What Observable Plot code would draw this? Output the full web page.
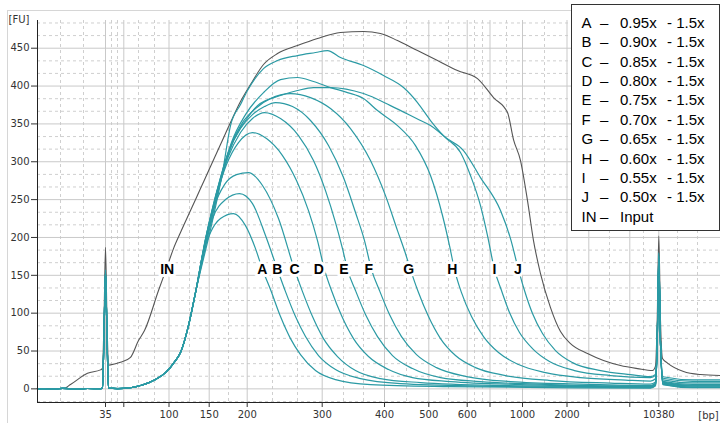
<!DOCTYPE html>
<html><head><meta charset="utf-8">
<script src="https://cdn.jsdelivr.net/npm/d3@7"></script>
<script src="https://cdn.jsdelivr.net/npm/@observablehq/plot@0.6"></script>
<style>
body{margin:0;background:#fff}
#wrap{position:relative;width:720px;height:423px;overflow:hidden;background:#fff}
#legend{position:absolute;left:571px;top:4px;width:147px;height:225px;border:1px solid #333;background:#fff}
.lg{position:absolute;font:15px "Liberation Sans",Arial,sans-serif;color:#000;line-height:18px;white-space:pre}
</style></head><body><div id="wrap"></div>
<script>
// ladder (bp) and their migration times (s)
const ladderBp = [35,50,100,150,200,300,400,500,600,700,1000,2000,3000,7000,10380];
const ladderTime = [41.80,43.63,48.15,52.17,55.97,63.47,69.70,74.13,77.97,80.25,83.50,87.95,90.13,94.23,97.13];
const ladderShown = [true,false,true,true,true,true,true,true,true,false,true,true,false,false,true];
const minorTime = [37.3,39.6,42.4,43.0,45.1,46.7,50.2,54.1,58.5,61.0,65.6,67.6,71.9,76.1,78.7,79.5,81.9,85.7,92.2,95.6,99.0,101.0];
const yTicks = [0,50,100,150,200,250,300,350,400,450];
const yMinor = [-16.7,16.7,33.3,66.7,83.3,116.7,133.3,166.7,183.3,216.7,233.3,266.7,283.3,316.7,333.3,366.7,383.3,416.7,433.3,466.7,483.3];

// Input (gray) trace [time s, FU]
const inputTrace = [[35.0,0.3],[37.6,0.5],[38.3,5.7],[40.0,20.6],[41.3,25.1],[41.5,27],[41.65,90],[41.8,187],[41.95,90],[42.1,31.4],[42.3,31.7],[43.3,35.1],[44.3,41.7],[45.1,63.8],[45.7,77.0],[47.1,129.9],[47.9,159.0],[48.6,185.3],[49.3,206.5],[50.3,235.5],[51.3,264.6],[52.3,293.7],[53.3,322.7],[54.3,351.8],[55.3,379.5],[56.3,402.0],[57.6,428.5],[59.0,442.9],[61.0,453.5],[63.0,462.8],[65.3,470.7],[67.6,472.0],[69.3,469.4],[71.0,460.1],[73.0,446.9],[75.0,433.7],[77.0,420.5],[79.0,409.9],[80.6,384.8],[82.0,365.0],[82.6,329.3],[83.3,301.6],[84.0,248.7],[84.6,195.9],[85.3,152.3],[86.3,107.4],[87.3,75.7],[88.3,59.8],[90.0,46.6],[91.6,37.4],[93.3,30.8],[95.0,26.8],[96.5,24.2],[96.8,30],[96.97,90],[97.13,202],[97.3,90],[97.5,40],[98.0,34.1],[99.6,22.9],[101.3,18.9],[103.3,17.6]];

// shared parts of the size-selected traces
const baseLeft = [[35.0,0.3],[36.2,-0.6],[37.5,0.7],[38.8,-0.3],[40.0,0.5],[41.2,0.2]];
const riseShared = [[43.0,0.4],[44.3,1.5],[45.3,4.4],[46.8,12.3],[47.8,21.5],[48.8,37.4],[49.3,48.0],[50.1,83.6],[50.8,127.2]];

const sampleIds = ["A","B","C","D","E","F","G","H","I","J"];
const peak35 = [150,152,157,155,153,156,154,151,155,157];
const peakUpper = [165,170,175,178,172,168,176,162,170,180];
const tailAfter = [1.5,2,2.5,3.5,4,5,6,8,10,12];

const bodyA = [[51.5,176.1],[52.3,206.5],[53.3,225.0],[54.6,231.6],[55.8,215.7],[56.8,185.3],[57.5,157.6],[58.3,131.2],[59.3,95.5],[60.3,66.4],[61.3,45.3],[62.8,24.2],[64.8,12.3],[68.3,5.7],[76.3,3.0],[86.3,1.7],[96.3,1.0]];
const bodyB = [[51.6,182.7],[52.5,225.0],[53.8,250.1],[55.2,258.0],[56.5,244.8],[57.8,202.5],[59.0,157.6],[59.8,128.5],[60.8,95.5],[61.8,69.1],[63.1,44.0],[64.8,25.5],[67.3,13.6],[71.3,7.0],[79.3,3.7],[89.3,2.4],[96.3,1.7]];
const bodyC = [[51.7,190.6],[52.6,238.2],[53.7,269.9],[54.9,283.1],[56.1,285.7],[57.5,268.6],[59.1,225.0],[60.7,157.6],[61.5,128.5],[62.5,95.5],[63.6,66.4],[65.0,42.7],[66.8,24.2],[69.3,13.6],[73.3,8.3],[81.3,4.4],[91.3,3.0],[96.3,2.4]];
const bodyD = [[51.8,198.5],[52.8,251.4],[53.9,296.3],[55.1,325.4],[56.5,338.6],[57.9,330.6],[59.5,308.2],[60.9,275.2],[62.1,235.5],[63.0,195.9],[63.7,157.6],[64.4,129.9],[65.4,96.8],[66.6,66.4],[68.1,42.7],[70.1,25.5],[72.5,14.9],[76.3,9.6],[83.3,5.7],[91.3,3.7],[96.3,3.0]];
const bodyE = [[51.9,203.8],[52.9,259.3],[54.0,304.2],[55.3,338.6],[56.5,357.1],[57.7,365.0],[59.3,357.1],[61.1,334.6],[62.6,301.6],[63.8,261.9],[64.8,219.7],[65.5,185.3],[66.0,157.6],[66.8,129.9],[67.8,98.2],[69.0,69.1],[70.5,44.0],[72.5,26.8],[75.3,14.9],[79.3,9.6],[86.3,5.7],[96.3,3.7]];
const bodyF = [[52.0,209.1],[53.0,264.6],[54.1,312.2],[55.3,343.9],[56.5,362.3],[57.7,372.9],[58.8,378.2],[60.5,372.9],[62.3,354.5],[64.1,321.4],[65.6,279.1],[66.8,232.9],[67.7,195.9],[68.4,157.6],[69.2,129.9],[70.2,98.2],[71.4,69.1],[72.9,45.3],[74.9,28.1],[77.9,16.2],[82.3,9.6],[89.3,6.3],[96.3,4.4]];
const bodyG = [[52.1,211.8],[53.1,268.6],[54.2,317.5],[55.5,351.8],[56.8,370.3],[58.3,383.5],[60.3,390.1],[62.3,384.8],[64.3,370.3],[66.3,343.9],[68.3,301.6],[69.8,255.3],[71.0,209.1],[71.7,182.7],[72.3,157.6],[73.1,127.2],[74.1,95.5],[75.3,66.4],[76.8,44.0],[78.8,28.1],[81.8,17.6],[86.3,11.0],[92.3,7.7],[96.3,6.3]];
const bodyH = [[52.2,214.4],[53.3,275.2],[54.4,325.4],[55.8,362.3],[57.6,391.4],[59.3,408.6],[61.0,411.3],[62.6,406.0],[64.3,398.0],[66.0,391.4],[67.6,383.5],[69.0,367.6],[71.0,347.8],[72.8,321.4],[74.3,281.8],[75.5,229.0],[76.2,189.3],[76.7,157.6],[77.4,127.2],[78.4,95.5],[79.6,69.1],[81.1,48.0],[83.1,32.1],[85.8,21.5],[89.3,14.9],[93.8,11.6],[96.3,10.3]];
const bodyI = [[52.3,217.0],[53.4,277.8],[54.6,328.0],[55.8,354.5],[57.0,374.2],[59.3,387.5],[61.0,394.1],[62.6,398.0],[64.3,398.0],[67.6,390.1],[70.3,374.2],[72.9,357.1],[74.3,347.8],[75.9,330.6],[77.3,312.2],[78.3,281.8],[79.3,242.1],[80.0,202.5],[80.7,157.6],[81.4,129.9],[82.2,100.8],[83.2,74.4],[84.5,53.2],[86.2,36.1],[88.7,24.2],[92.3,17.6],[96.3,14.9]];
const bodyJ = [[52.5,222.3],[53.5,285.7],[54.3,347.8],[55.3,375.6],[56.0,394.1],[57.6,423.1],[59.0,433.7],[61.0,440.3],[62.8,444.3],[64.0,446.9],[65.3,437.7],[67.6,427.1],[69.6,413.9],[71.6,398.0],[73.0,378.2],[74.3,354.5],[75.6,334.6],[77.6,314.8],[79.3,279.1],[81.3,235.5],[82.3,198.5],[83.1,157.6],[83.7,129.9],[84.5,99.5],[85.5,73.1],[86.8,50.6],[88.5,34.7],[91.3,24.2],[94.3,18.9],[96.3,16.2]];
const bodies = [bodyA,bodyB,bodyC,bodyD,bodyE,bodyF,bodyG,bodyH,bodyI,bodyJ];

// curve labels
const labelText = ["IN","A","B","C","D","E","F","G","H","I","J"];
const labelTime = [47.97,57.47,58.97,60.70,63.13,65.63,68.13,72.13,76.47,80.70,83.03];
const labelFU = 157.6;

// legend
const legendKey = ["A","B","C","D","E","F","G","H","I","J","IN"];
const legendFirst = ["0.95x","0.90x","0.85x","0.80x","0.75x","0.70x","0.65x","0.60x","0.55x","0.50x","Input"];
const legendSecond = ["- 1.5x","- 1.5x","- 1.5x","- 1.5x","- 1.5x","- 1.5x","- 1.5x","- 1.5x","- 1.5x","- 1.5x",""];

const teal = "#2b9aa4";
const rows = [];
sampleIds.forEach((id, i) => {
  const body = bodies[i];
  const last = body[body.length - 1][1];
  const pts = [...baseLeft, [41.5,1], [41.65,70], [41.8,peak35[i]], [41.95,70], [42.1,1], ...riseShared, ...body,
    [96.8,last + 3], [96.97,60], [97.13,peakUpper[i]], [97.3,60], [97.55,tailAfter[i] + 4], [100.5,tailAfter[i]], [103.3,tailAfter[i]]];
  pts.forEach(p => rows.push({id, t: p[0], fu: p[1]}));
});
const inputRows = inputTrace.map(p => ({t: p[0], fu: p[1]}));
const labelRows = labelText.map((s, i) => ({s, t: labelTime[i], fu: labelFU}));
const tickLabel = new Map(ladderTime.map((t, i) => [t, ladderShown[i] ? String(ladderBp[i]) : ""]));

const chart = Plot.plot({
  width: 720, height: 423,
  marginLeft: 37, marginRight: 0, marginTop: 20, marginBottom: 21,
  x: {domain: [35, 103.3]},
  y: {domain: [-18, 486.6]},
  style: {fontFamily: "'DejaVu Sans', Verdana, sans-serif", fontSize: "10px", color: "#333", background: "transparent", overflow: "visible"},
  marks: [
    Plot.ruleY(yMinor, {stroke: "#cfcfcf", strokeDasharray: "3,3"}),
    Plot.ruleX(minorTime, {stroke: "#cfcfcf", strokeDasharray: "3,3"}),
    Plot.ruleY(yTicks, {stroke: "#c9c9c9"}),
    Plot.ruleX(ladderTime, {stroke: "#c9c9c9"}),
    Plot.line(inputRows, {x: "t", y: "fu", stroke: "#555", strokeWidth: 1.1, curve: "monotone-x"}),
    Plot.line(rows, {x: "t", y: "fu", z: "id", stroke: teal, strokeWidth: 1.2, curve: "monotone-x"}),
    Plot.text(labelRows, {x: "t", y: "fu", text: "s", fontFamily: "'Liberation Sans', Arial, sans-serif", fontSize: 14, fontWeight: "bold", fill: "#000", stroke: "#fff", strokeWidth: 6}),
    Plot.ruleX([35], {stroke: "#222"}),
    Plot.ruleY([-18], {stroke: "#222"}),
    Plot.axisY({ticks: yTicks, tickSize: 6, tickPadding: 2, label: null}),
    Plot.axisX({ticks: ladderTime, tickSize: 5, tickPadding: 3, label: null, tickFormat: d => tickLabel.get(d)}),
    Plot.text(["[FU]"], {frameAnchor: "top-left", dx: -29, dy: -1, textAnchor: "start", lineAnchor: "middle"}),
    Plot.text(["[bp]"], {frameAnchor: "bottom-right", dx: -12, dy: 13, textAnchor: "middle", lineAnchor: "middle"})
  ]
});

d3.select(chart).insert("rect", ":first-child")
  .attr("x", 7.5).attr("y", 10.5).attr("width", 730).attr("height", 430)
  .attr("fill", "none").attr("stroke", "#d6d6d6");

const wrap = document.getElementById("wrap");
wrap.appendChild(chart);
const leg = document.createElement("div");
leg.id = "legend";
wrap.appendChild(leg);
legendKey.forEach((k, i) => {
  const top = 22.7 + 19.4 * i - 8.85;
  const parts = [[581.5, k], [600, "\u2013"], [620, legendFirst[i]], [667, legendSecond[i]]];
  parts.forEach(([x, s]) => {
    if (!s) return;
    const sp = document.createElement("span");
    sp.className = "lg";
    sp.style.left = x + "px";
    sp.style.top = top + "px";
    sp.textContent = s;
    wrap.appendChild(sp);
  });
});
</script></body></html>
